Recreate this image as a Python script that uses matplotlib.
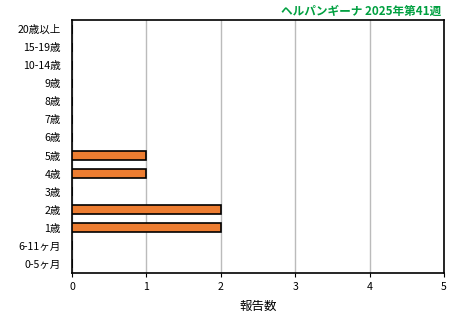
import matplotlib
matplotlib.use("Agg")
import matplotlib.pyplot as plt

plt.rcParams['font.family'] = ['Noto Sans CJK JP', 'DejaVu Sans']

# categories listed top to bottom
ages = ['20歳以上', '15-19歳', '10-14歳', '9歳', '8歳', '7歳', '6歳',
        '5歳', '4歳', '3歳', '2歳', '1歳', '6-11ヶ月', '0-5ヶ月']
counts = [0, 0, 0, 0, 0, 0, 0, 1, 1, 0, 2, 2, 0, 0]
title = 'ヘルパンギーナ 2025年第41週'

fig = plt.figure(figsize=(4.6, 3.21), dpi=100)
ax = fig.add_axes([72/460, 1 - 273/321, (444-72)/460, (273-20)/321])

ypos = list(range(len(ages)))[::-1]
ax.barh(ypos, counts, height=0.5, color='#ED7D31', edgecolor='black', linewidth=1.2, zorder=3)

ax.set_xlim(0, 5)
ax.set_ylim(-0.5, len(ages) - 0.5)
ax.set_yticks(ypos)
ax.set_yticklabels(ages, fontsize=7.6)
ax.tick_params(axis='y', length=0, pad=8)
ax.set_xticks(range(6))
ax.tick_params(axis='x', labelsize=7.6, length=3, direction='out')
ax.grid(axis='x', color='#BBBBBB', linewidth=1, zorder=0)
for s in ax.spines.values():
    s.set_linewidth(1.2)

ax.set_xlabel('報告数', fontsize=9, labelpad=6)
fig.text(441/460, 1 - 11/321, title, ha='right', va='center', fontsize=8.4,
         color='#00A040', fontweight='bold')

fig.savefig('out.png', dpi=100)
